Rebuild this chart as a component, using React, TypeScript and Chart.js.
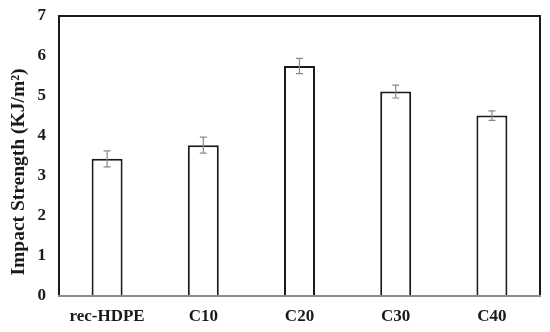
import React, { useEffect, useRef } from "react";
import { Chart, registerables } from "chart.js";

Chart.register(...registerables);

const categories = ["rec-HDPE", "C10", "C20", "C30", "C40"];
const impactValues = [3.43, 3.77, 5.75, 5.11, 4.51];
const errorValues = [0.2, 0.2, 0.19, 0.16, 0.12];
const yTickMin = 0;
const yTickMax = 7;
const yTitle = "Impact Strength (KJ/m²)";

const FONT = "'Liberation Serif', 'Times New Roman', serif";

const framePlugin = {
  id: "frameAndErrors",
  afterDatasetsDraw(chart: any) {
    const { ctx } = chart;
    const yScale = chart.scales.y;
    const meta = chart.getDatasetMeta(0);
    ctx.save();
    ctx.strokeStyle = "#8a8a8a";
    ctx.lineWidth = 1.2;
    meta.data.forEach((bar: any, i: number) => {
      const x = bar.x;
      const yTop = yScale.getPixelForValue(impactValues[i] + errorValues[i]);
      const yBot = yScale.getPixelForValue(impactValues[i] - errorValues[i]);
      const cap = 3.5;
      ctx.beginPath();
      ctx.moveTo(x, yTop);
      ctx.lineTo(x, yBot);
      ctx.moveTo(x - cap, yTop);
      ctx.lineTo(x + cap, yTop);
      ctx.moveTo(x - cap, yBot);
      ctx.lineTo(x + cap, yBot);
      ctx.stroke();
    });
    ctx.restore();
  },
  afterDraw(chart: any) {
    const { ctx, chartArea } = chart;
    const { left, right, top, bottom } = chartArea;
    ctx.save();
    ctx.strokeStyle = "#1a1a1a";
    ctx.lineWidth = 2;
    ctx.beginPath();
    ctx.moveTo(left, bottom);
    ctx.lineTo(left, top);
    ctx.lineTo(right, top);
    ctx.lineTo(right, bottom);
    ctx.stroke();
    ctx.strokeStyle = "#8c8c8c";
    ctx.beginPath();
    ctx.moveTo(left - 1, bottom);
    ctx.lineTo(right + 1, bottom);
    ctx.stroke();
    // y axis title
    ctx.translate(19, 172);
    ctx.rotate(-Math.PI / 2);
    ctx.fillStyle = "#1a1a1a";
    ctx.font = `bold 19.5px ${FONT}`;
    ctx.textAlign = "center";
    ctx.textBaseline = "middle";
    ctx.fillText(yTitle, 0, 0);
    ctx.restore();
  },
};

export default function App() {
  const canvasRef = useRef<HTMLCanvasElement | null>(null);

  useEffect(() => {
    document.body.style.margin = "0";
    const canvas = canvasRef.current;
    if (!canvas) return;
    const chart = new Chart(canvas, {
      type: "bar",
      data: {
        labels: categories,
        datasets: [
          {
            data: impactValues,
            backgroundColor: "#ffffff",
            borderColor: "#1a1a1a",
            borderWidth: 2,
            barPercentage: 0.322,
            categoryPercentage: 1,
          },
        ],
      },
      options: {
        animation: false,
        responsive: false,
        devicePixelRatio: 1,
        layout: { padding: { top: 16, right: 10, left: 0, bottom: 0 } },
        plugins: {
          legend: { display: false },
          tooltip: { enabled: false },
        },
        scales: {
          x: {
            grid: { display: false, drawTicks: false },
            border: { display: false },
            ticks: {
              color: "#1a1a1a",
              padding: 10,
              font: { family: FONT, size: 17, weight: "bold" },
            },
            afterFit(scale: any) {
              scale.height = 36;
            },
          },
          y: {
            min: yTickMin,
            max: yTickMax,
            grid: {
              display: true,
              drawOnChartArea: false,
              drawTicks: true,
              tickLength: 10,
              color: "rgba(0,0,0,0)",
            },
            border: { display: false },
            ticks: {
              stepSize: 1,
              color: "#1a1a1a",
              padding: 3,
              font: { family: FONT, size: 17, weight: "bold" },
            },
            afterFit(scale: any) {
              scale.width = 59;
            },
          },
        },
      },
      plugins: [framePlugin],
    });
    return () => chart.destroy();
  }, []);

  return (
    <div style={{ width: 550, height: 332 }}>
      <canvas ref={canvasRef} width={550} height={332} />
    </div>
  );
}
